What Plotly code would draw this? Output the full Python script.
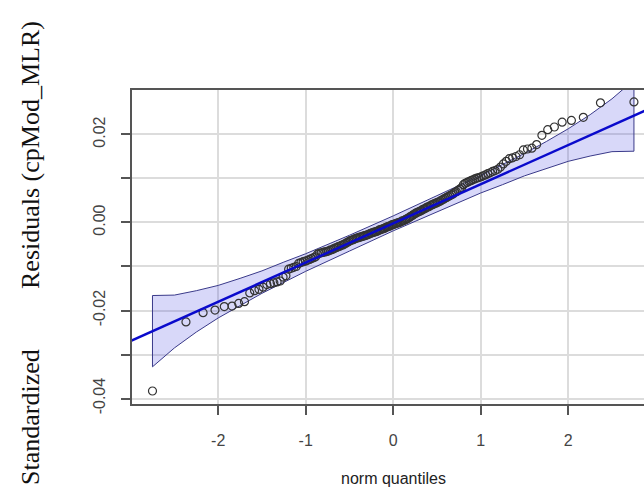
import plotly.graph_objects as go

# Theoretical normal quantiles (x) and sorted standardized residuals (y)
norm_quantiles = [
    -2.7510, -2.3684, -2.1727, -2.0365, -1.9305, -1.8417, -1.7659, -1.6992, -1.6391, -1.5846, -1.5342, -1.4875,
    -1.4441, -1.4027, -1.3637, -1.3269, -1.2918, -1.2584, -1.2259, -1.1949, -1.1650, -1.1360, -1.1080, -1.0809,
    -1.0547, -1.0288, -1.0038, -0.9794, -0.9556, -0.9323, -0.9095, -0.8871, -0.8653, -0.8439, -0.8227, -0.8019,
    -0.7815, -0.7614, -0.7418, -0.7221, -0.7028, -0.6838, -0.6651, -0.6466, -0.6285, -0.6103, -0.5924, -0.5748,
    -0.5574, -0.5400, -0.5228, -0.5057, -0.4888, -0.4722, -0.4557, -0.4391, -0.4226, -0.4063, -0.3902, -0.3742,
    -0.3582, -0.3424, -0.3265, -0.3108, -0.2952, -0.2796, -0.2641, -0.2489, -0.2335, -0.2181, -0.2028, -0.1876,
    -0.1725, -0.1575, -0.1425, -0.1273, -0.1121, -0.0971, -0.0821, -0.0672, -0.0522, -0.0373, -0.0224, -0.0075,
    0.0075, 0.0224, 0.0373, 0.0522, 0.0672, 0.0821, 0.0971, 0.1121, 0.1273, 0.1425, 0.1575, 0.1725,
    0.1876, 0.2028, 0.2181, 0.2335, 0.2489, 0.2641, 0.2796, 0.2952, 0.3108, 0.3265, 0.3424, 0.3582,
    0.3742, 0.3902, 0.4063, 0.4226, 0.4391, 0.4557, 0.4722, 0.4888, 0.5057, 0.5228, 0.5400, 0.5574,
    0.5748, 0.5924, 0.6103, 0.6285, 0.6466, 0.6651, 0.6838, 0.7028, 0.7221, 0.7418, 0.7614, 0.7815,
    0.8019, 0.8227, 0.8439, 0.8653, 0.8871, 0.9095, 0.9323, 0.9556, 0.9794, 1.0038, 1.0288, 1.0547,
    1.0809, 1.1080, 1.1360, 1.1650, 1.1949, 1.2259, 1.2584, 1.2918, 1.3269, 1.3637, 1.4027, 1.4441,
    1.4875, 1.5342, 1.5846, 1.6391, 1.6992, 1.7659, 1.8417, 1.9305, 2.0365, 2.1727, 2.3684, 2.7510,
]

residuals = [
    -0.0383, -0.0226, -0.0205, -0.0199, -0.0191, -0.0190, -0.0184, -0.0180, -0.0160, -0.0155, -0.0152, -0.0147,
    -0.0141, -0.0139, -0.0137, -0.0135, -0.0133, -0.0124, -0.0121, -0.0106, -0.0104, -0.0102, -0.0100, -0.0093,
    -0.0091, -0.0089, -0.0088, -0.0086, -0.0084, -0.0082, -0.0080, -0.0078, -0.0072, -0.0070, -0.0069, -0.0068,
    -0.0067, -0.0066, -0.0065, -0.0063, -0.0062, -0.0060, -0.0058, -0.0057, -0.0055, -0.0054, -0.0052, -0.0051,
    -0.0049, -0.0047, -0.0045, -0.0043, -0.0041, -0.0040, -0.0039, -0.0037, -0.0036, -0.0035, -0.0034, -0.0033,
    -0.0032, -0.0031, -0.0030, -0.0029, -0.0028, -0.0027, -0.0025, -0.0024, -0.0023, -0.0022, -0.0021, -0.0020,
    -0.0019, -0.0017, -0.0016, -0.0015, -0.0014, -0.0013, -0.0011, -0.0010, -0.0009, -0.0008, -0.0006, -0.0005,
    -0.0004, -0.0003, -0.0002, -0.0001, 0.0000, 0.0001, 0.0003, 0.0004, 0.0005, 0.0007, 0.0008, 0.0010,
    0.0012, 0.0014, 0.0016, 0.0018, 0.0020, 0.0022, 0.0023, 0.0025, 0.0026, 0.0028, 0.0030, 0.0031,
    0.0033, 0.0035, 0.0036, 0.0038, 0.0040, 0.0041, 0.0043, 0.0044, 0.0046, 0.0047, 0.0049, 0.0051,
    0.0053, 0.0055, 0.0057, 0.0059, 0.0061, 0.0063, 0.0065, 0.0068, 0.0070, 0.0073, 0.0076, 0.0079,
    0.0086, 0.0089, 0.0091, 0.0093, 0.0095, 0.0097, 0.0099, 0.0101, 0.0102, 0.0104, 0.0106, 0.0108,
    0.0111, 0.0113, 0.0116, 0.0118, 0.0121, 0.0126, 0.0133, 0.0139, 0.0145, 0.0147, 0.0150, 0.0154,
    0.0165, 0.0167, 0.0169, 0.0177, 0.0198, 0.0211, 0.0217, 0.0228, 0.0232, 0.0239, 0.0272, 0.0274,
]

# Reference line (intercept, slope)
line_intercept = -0.0002
line_slope = 0.0089

# Pointwise confidence envelope
band_z = [-2.751, -2.5, -2.25, -2.0, -1.75, -1.5, -1.25, -1.0, -0.5, 0.0,
          0.5, 1.0, 1.25, 1.5, 1.75, 2.0, 2.25, 2.5, 2.751]
band_upper = [-0.0166, -0.0165, -0.0155, -0.0143, -0.0127, -0.0110, -0.0090, -0.0071, -0.0029, 0.0015,
              0.0061, 0.0107, 0.0132, 0.0157, 0.0184, 0.0213, 0.0245, 0.0281, 0.0324]
band_lower = [-0.0328, -0.0285, -0.0249, -0.0217, -0.0189, -0.0161, -0.0136, -0.0111, -0.0065, -0.0019,
              0.0024, 0.0067, 0.0086, 0.0106, 0.0123, 0.0139, 0.0151, 0.0161, 0.0162]

x_ticks = [-2, -1, 0, 1, 2]
x_tick_labels = ["-2", "-1", "0", "1", "2"]
y_ticks = [-0.04, -0.03, -0.02, -0.01, 0.0, 0.01, 0.02]
y_tick_labels = ["-0.04", "", "-0.02", "", "0.00", "", "0.02"]

X_RANGE = [-2.985, 2.866]
Y_RANGE = [-0.04125, 0.03011]

fig = go.Figure()

# Envelope polygon
fig.add_trace(go.Scatter(
    x=band_z + band_z[::-1] + [band_z[0]],
    y=band_upper + band_lower[::-1] + [band_upper[0]],
    mode="lines", fill="toself",
    fillcolor="rgba(60,60,225,0.20)",
    line=dict(color="#3a3a8a", width=1),
    hoverinfo="skip", showlegend=False,
))

# Points
fig.add_trace(go.Scatter(
    x=norm_quantiles, y=residuals, mode="markers",
    marker=dict(symbol="circle-open", size=8, color="#333333", line=dict(width=1.2)),
    showlegend=False,
))

# Reference line across full plot
lx = [-3.5, 3.5]
fig.add_trace(go.Scatter(
    x=lx, y=[line_intercept + line_slope * v for v in lx],
    mode="lines", line=dict(color="#0a0acc", width=2.5),
    hoverinfo="skip", showlegend=False,
))

tick_font = dict(family="Liberation Sans, Arial, sans-serif", size=16, color="#444444")

fig.update_layout(
    width=644, height=492,
    margin=dict(l=132, r=0, t=90, b=88),
    paper_bgcolor="white", plot_bgcolor="white",
    xaxis=dict(
        range=X_RANGE, tickvals=x_ticks, ticktext=x_tick_labels,
        ticks="outside", ticklen=9, tickwidth=1.5, tickcolor="#555555",
        showgrid=True, gridcolor="#dcdcdc", gridwidth=1.5, zeroline=False,
        showline=True, linecolor="#555555", linewidth=1.5, mirror=True,
        tickfont=tick_font, ticklabelstandoff=12,
    ),
    yaxis=dict(
        range=Y_RANGE, tickvals=y_ticks, ticktext=y_tick_labels,
        ticks="outside", ticklen=9, tickwidth=1.5, tickcolor="#555555",
        showgrid=True, gridcolor="#dcdcdc", gridwidth=1.5, zeroline=False,
        showline=True, linecolor="#555555", linewidth=1.5,
        tickfont=tick_font, tickangle=-90, ticklabelstandoff=10,
    ),
    annotations=[
        dict(text="norm quantiles", xref="paper", yref="paper",
             x=(393 - 132) / 512, y=(404 - 478) / 314, xanchor="center", yanchor="middle",
             showarrow=False, font=dict(family="Liberation Sans, Arial, sans-serif", size=16, color="#222222")),
        dict(text="Residuals (cpMod_MLR)", xref="paper", yref="paper",
             x=(30 - 132) / 512, y=(404 - 155) / 314, xanchor="center", yanchor="middle",
             textangle=-90, showarrow=False,
             font=dict(family="Liberation Serif, Times New Roman, serif", size=26, color="#111111")),
        dict(text="Standardized", xref="paper", yref="paper",
             x=(30 - 132) / 512, y=(404 - 417) / 314, xanchor="center", yanchor="middle",
             textangle=-90, showarrow=False,
             font=dict(family="Liberation Serif, Times New Roman, serif", size=26, color="#111111")),
    ],
)

fig.write_html(
    "out.html",
    config={"displayModeBar": False},
    post_script="document.body.style.margin='0px';document.body.style.overflow='hidden';",
)
